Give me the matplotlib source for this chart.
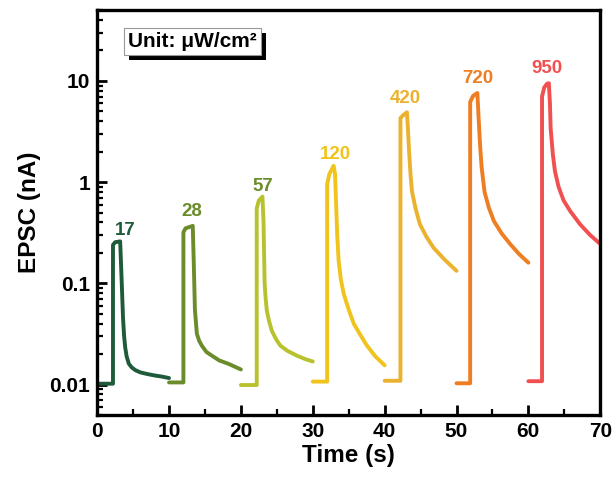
import matplotlib
matplotlib.use("Agg")
import matplotlib.pyplot as plt
import matplotlib.patheffects as pe
from matplotlib.ticker import FixedLocator, LogLocator, NullFormatter, MultipleLocator

plt.rcParams['font.family'] = ['Liberation Sans', 'DejaVu Sans']
plt.rcParams['font.weight'] = 'bold'

# ---- data ----
labels = ["17", "28", "57", "120", "420", "720", "950"]

t_17 = [0, 2.2, 2.2, 2.5, 3.2, 3.4, 3.6, 3.75, 3.9, 4.1, 4.4, 4.8, 5.3, 6.0, 7.0, 8.0, 9.0, 10.0]
i_17 = [0.0102, 0.0102, 0.24, 0.255, 0.26, 0.11, 0.045, 0.030, 0.0233, 0.019, 0.0161, 0.0148,
        0.0139, 0.0132, 0.0127, 0.0123, 0.0120, 0.0116]

t_28 = [10, 12.0, 12.0, 12.3, 13.3, 13.45, 13.6, 13.87, 14.2, 14.57, 15.2, 15.96, 17.0, 18.3, 20.0]
i_28 = [0.0105, 0.0105, 0.32, 0.35, 0.37, 0.15, 0.055, 0.0318, 0.027, 0.0242, 0.021, 0.0193,
        0.0173, 0.0160, 0.0141]

t_57 = [20, 22.2, 22.2, 22.5, 23.0, 23.15, 23.3, 23.45, 23.6, 23.9, 24.3, 24.9, 25.5, 26.5, 27.8, 29.0, 30.0]
i_57 = [0.0099, 0.0099, 0.55, 0.66, 0.72, 0.40, 0.10, 0.070, 0.054, 0.043, 0.034, 0.028, 0.0242,
        0.0215, 0.0193, 0.0178, 0.0169]

t_120 = [30, 32.0, 32.0, 32.3, 32.9, 33.1, 33.25, 33.4, 33.6, 33.9, 34.3, 35.0, 35.7, 36.5, 37.5, 38.7, 40.0]
i_120 = [0.0107, 0.0107, 0.95, 1.2, 1.45, 1.2, 0.60, 0.30, 0.167, 0.11, 0.079, 0.055, 0.040,
         0.032, 0.0245, 0.019, 0.0155]

t_420 = [40, 42.2, 42.2, 42.6, 43.1, 43.25, 43.4, 43.6, 43.8, 44.3, 44.9, 45.8, 46.8, 48.4, 50.0]
i_420 = [0.0109, 0.0109, 4.3, 4.6, 4.9, 3.3, 2.0, 1.2, 0.815, 0.55, 0.385, 0.29, 0.225, 0.17, 0.133]

t_720 = [50, 51.9, 51.9, 52.3, 52.9, 53.1, 53.3, 53.5, 53.9, 54.5, 55.2, 56.3, 57.5, 58.7, 60.0]
i_720 = [0.0103, 0.0103, 6.2, 7.1, 7.6, 4.0, 2.2, 1.4, 0.8, 0.56, 0.413, 0.31, 0.243, 0.195, 0.160]

t_950 = [60, 61.9, 61.9, 62.2, 62.6, 62.85, 63.0, 63.1, 63.4, 63.7, 64.2, 64.9, 65.8, 67.2, 68.6, 70.0]
i_950 = [0.0108, 0.0108, 7.0, 8.6, 9.4, 9.5, 6.0, 3.4, 1.9, 1.28, 0.9, 0.66, 0.52, 0.383, 0.30, 0.245]

label_t = [3.9, 13.2, 23.0, 33.1, 42.9, 52.9, 62.6]
label_i = [0.33, 0.51, 0.91, 1.89, 6.7, 10.6, 13.3]

x_ticks = [0, 10, 20, 30, 40, 50, 60, 70]
y_ticks = [0.01, 0.1, 1, 10]
y_tick_labels = ["0.01", "0.1", "1", "10"]

line_colors = ["#1e5b3a", "#6b8c2a", "#b8c22e", "#f0c41c", "#ebb22f", "#ef7d22", "#f25050"]
label_colors = ["#1e5b3a", "#6b8c2a", "#6b8c2a", "#f0c41c", "#ebb22f", "#ef7d22", "#f25050"]

series_t = [t_17, t_28, t_57, t_120, t_420, t_720, t_950]
series_i = [i_17, i_28, i_57, i_120, i_420, i_720, i_950]

# ---- figure ----
fig = plt.figure(figsize=(6.15, 4.86), dpi=100)
ax = fig.add_axes([0.158, 0.146, 0.818, 0.833])

for t, i, c in zip(series_t, series_i, line_colors):
    ax.plot(t, i, color=c, lw=2.8, solid_joinstyle='round', solid_capstyle='round')

for lab, lt, li, c in zip(labels, label_t, label_i, label_colors):
    ax.text(lt, li, lab, color=c, fontsize=13.5, fontweight='bold', ha='center', va='center')

ax.set_yscale('log')
ax.set_xlim(0, 70)
ax.set_ylim(0.005, 50)

ax.xaxis.set_major_locator(FixedLocator(x_ticks))
ax.xaxis.set_minor_locator(MultipleLocator(5))
ax.yaxis.set_major_locator(FixedLocator(y_ticks))
ax.set_yticklabels(y_tick_labels)
ax.yaxis.set_minor_locator(LogLocator(base=10, subs=range(2, 10), numticks=20))
ax.yaxis.set_minor_formatter(NullFormatter())

ax.tick_params(which='major', direction='in', length=7, width=2.0, labelsize=15, pad=5,
               top=False, right=False)
ax.tick_params(which='minor', direction='in', length=4, width=1.6, top=False, right=False)
for lbl in ax.get_xticklabels() + ax.get_yticklabels():
    lbl.set_fontweight('bold')

for s in ax.spines.values():
    s.set_linewidth(2.4)

ax.set_xlabel("Time (s)", fontsize=17.5, fontweight='bold', labelpad=2)
ax.set_ylabel("EPSC (nA)", fontsize=17.5, fontweight='bold', labelpad=6)

txt = ax.text(0.062, 0.922, "Unit: \u03bcW/cm\u00b2", transform=ax.transAxes, fontsize=15,
              fontweight='bold', ha='left', va='center',
              bbox=dict(boxstyle='square,pad=0.2', fc='white', ec='#999999', lw=0.8))
txt.get_bbox_patch().set_path_effects([
    pe.SimplePatchShadow(offset=(3.5, -3.5), shadow_rgbFace='black', alpha=1.0),
    pe.Normal()])

fig.savefig("out.png", dpi=100, facecolor='white')
